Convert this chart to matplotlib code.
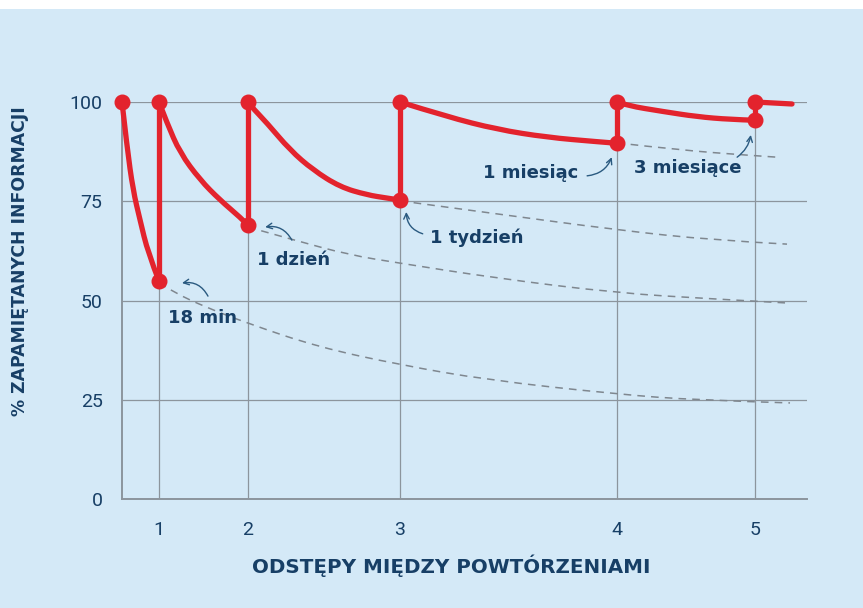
import matplotlib
matplotlib.use("Agg")
import matplotlib.pyplot as plt
from matplotlib.patches import Rectangle, PathPatch
from matplotlib.path import Path

# x runs on the chart's own (nonlinear) time axis, scaled 0-100 across the plot
# y is % of information remembered

# red curve: forgetting segments between repetitions
seg_x = [
    [0, 0.73, 1.61, 2.63, 3.80, 5.40],
    [5.40, 6.57, 8.47, 11.39, 14.31, 17.23, 18.39],
    [18.39, 18.69, 21.17, 24.53, 27.88, 31.82, 35.77, 38.69, 40.58],
    [40.58, 47.45, 54.74, 62.04, 69.34, 72.26],
    [72.26, 73.72, 78.98, 83.94, 88.76, 92.41],
    [92.41, 97.81],
]
seg_y = [
    [100, 88.7, 77.8, 70.3, 62.0, 54.9],
    [100, 94.7, 87.2, 80.4, 75.3, 71.0, 69.0],
    [100, 99.2, 94.7, 87.9, 82.9, 78.6, 76.6, 75.8, 75.3],
    [100, 96.3, 93.1, 91.1, 90.0, 89.6],
    [100, 99.1, 97.6, 96.3, 95.6, 95.4],
    [100, 99.5],
]

# repetition moments: value before the repetition
rep_x = [5.40, 18.39, 40.58, 72.26, 92.41]
rep_low = [54.9, 69.0, 75.3, 89.6, 95.4]

# dashed curves: what happens without repetition
dash_x = [
    [5.40, 7.74, 12.12, 18.25, 28.61, 40.58, 53.28, 72.26, 83.94, 97.52],
    [18.39, 25.18, 33.14, 40.58, 54.38, 72.12, 86.28, 96.79],
    [40.58, 54.38, 72.12, 86.28, 97.08],
    [72.26, 81.46, 91.24, 95.62],
]
dash_y = [
    [54.4, 51.9, 48.4, 44.3, 38.3, 33.8, 30.0, 26.4, 24.9, 24.2],
    [68.5, 65.2, 61.5, 59.4, 55.7, 51.9, 50.4, 49.4],
    [75.1, 71.9, 67.8, 65.2, 64.2],
    [89.7, 87.9, 86.6, 86.1],
]

xticks = [5.40, 18.39, 40.58, 72.26, 92.41]
xtick_labels = ["1", "2", "3", "4", "5"]
yticks = [0, 25, 50, 75, 100]

notes = ["18 min", "1 dzień", "1 tydzień", "1 miesiąc", "3 miesiące"]
note_xy = [(11.8, 45.6), (25.1, 60.2), (51.8, 65.7), (59.6, 82.1), (82.6, 83.4)]
arrow_from = [(12.55, 51.1), (24.8, 65.2), (43.9, 66.8), (67.9, 81.4), (89.8, 86.1)]
arrow_to = [(8.76, 54.4), (20.9, 68.5), (41.5, 72.3), (71.5, 86.1), (91.8, 91.7)]
arrow_rad = [0.35, 0.35, -0.35, 0.3, 0.2]

BG = "#d4e9f7"
RED = "#e3232d"
NAVY = "#173f66"
GRID = "#8c959d"
FONT = "DejaVu Sans"


def smooth_path(xs, ys):
    # quadratic b-spline style path through the read points
    pts = list(zip(xs, ys))
    if len(pts) < 3:
        return Path(pts, [Path.MOVETO] + [Path.LINETO] * (len(pts) - 1))
    verts = [pts[0]]
    codes = [Path.MOVETO]
    for i in range(1, len(pts) - 2):
        mid = ((pts[i][0] + pts[i + 1][0]) / 2, (pts[i][1] + pts[i + 1][1]) / 2)
        verts += [pts[i], mid]
        codes += [Path.CURVE3, Path.CURVE3]
    verts += [pts[-2], pts[-1]]
    codes += [Path.CURVE3, Path.CURVE3]
    return Path(verts, codes)


fig = plt.figure(figsize=(8.63, 6.08), dpi=100)
fig.patch.set_facecolor(BG)
fig.patches.append(Rectangle((0, 1 - 9 / 608), 1, 9 / 608, transform=fig.transFigure,
                             facecolor="white", edgecolor="none"))

ax = fig.add_axes([122 / 863, 1 - 499 / 608, (807 - 122) / 863, (499 - 102) / 608])
ax.set_facecolor(BG)
ax.set_xlim(0, 100)
ax.set_ylim(0, 100)

for s in ["top", "right"]:
    ax.spines[s].set_visible(False)
for s in ["left", "bottom"]:
    ax.spines[s].set_color(GRID)
    ax.spines[s].set_linewidth(1.4)

ax.set_xticks(xticks)
ax.set_xticklabels(xtick_labels)
ax.set_yticks(yticks)
ax.tick_params(length=0, colors=NAVY, labelsize=14)
ax.tick_params(axis="x", pad=16)
ax.tick_params(axis="y", pad=14)
for lab in ax.get_xticklabels() + ax.get_yticklabels():
    lab.set_fontfamily("Roboto")
    lab.set_color(NAVY)

ax.grid(True, color=GRID, linewidth=0.9)
ax.set_axisbelow(True)

for xs, ys in zip(dash_x, dash_y):
    ax.add_patch(PathPatch(smooth_path(xs, ys), facecolor="none", edgecolor="#7f878f",
                           linewidth=1.1, linestyle=(0, (5, 4)), zorder=2))

for xs, ys in zip(seg_x, seg_y):
    ax.add_patch(PathPatch(smooth_path(xs, ys), facecolor="none", edgecolor=RED,
                           linewidth=3.8, capstyle="round", zorder=3, clip_on=False))

for x, lo in zip(rep_x, rep_low):
    ax.plot([x, x], [lo, 100], color=RED, linewidth=3.8, zorder=3, clip_on=False)

mx = [0] + rep_x + rep_x
my = [100] + rep_low + [100] * len(rep_x)
ax.plot(mx, my, "o", color=RED, markersize=10.5, zorder=4, clip_on=False)

for t, xy, a0, a1, r in zip(notes, note_xy, arrow_from, arrow_to, arrow_rad):
    ax.text(xy[0], xy[1], t, ha="center", va="center", fontsize=13, fontweight="bold",
            family=FONT, color=NAVY, zorder=5)
    ax.annotate("", xy=a1, xytext=a0,
                arrowprops=dict(arrowstyle="->", color="#2a5a80", lw=1.0,
                                connectionstyle="arc3,rad=%s" % r, shrinkA=0, shrinkB=0))

fig.text(451 / 863, 1 - 566 / 608, "ODSTĘPY MIĘDZY POWTÓRZENIAMI", ha="center", va="center",
         fontsize=14.3, fontweight="bold", family=FONT, color=NAVY)
fig.text(20 / 863, 1 - 261 / 608, "% ZAPAMIĘTANYCH INFORMACJI", ha="center", va="center",
         rotation=90, fontsize=12.4, fontweight="bold", family=FONT, color=NAVY)

fig.savefig("out.png", dpi=100, facecolor=BG)
